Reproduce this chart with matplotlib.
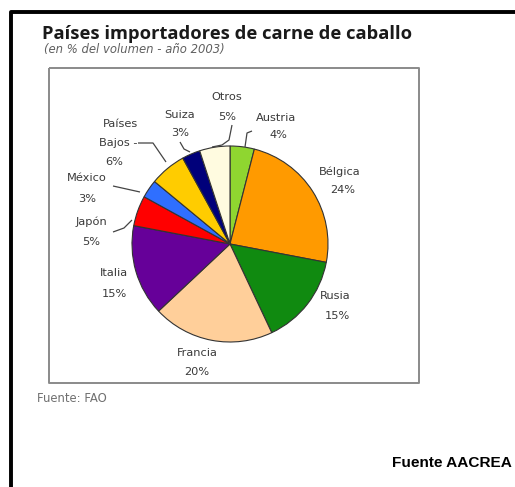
import matplotlib
matplotlib.use("Agg")
import matplotlib.pyplot as plt
import numpy as np

countries = ["Austria", "Bélgica", "Rusia", "Francia", "Italia", "Japón",
             "México", "Países Bajos", "Suiza", "Otros"]
shares = [4, 24, 15, 20, 15, 5, 3, 6, 3, 5]
colors = ["#8fd630", "#ff9a00", "#108a10", "#ffcf9a", "#660099", "#ff0000",
          "#2f6fff", "#ffcc00", "#00007a", "#fffbe0"]

W, H = 515, 487
CX, CY, R = 230, 244, 98

fig = plt.figure(figsize=(W / 100, H / 100), dpi=100)
fig.patch.set_facecolor("white")
ax = fig.add_axes([0, 0, 1, 1])

wedges, _ = ax.pie(shares, colors=colors, startangle=90, counterclock=False,
                   wedgeprops=dict(edgecolor="#333333", linewidth=0.8))
ax.set_xlim((0 - CX) / R, (W - CX) / R)
ax.set_ylim((CY - H) / R, (CY - 0) / R)
ax.set_aspect("auto")
ax.axis("off")


def P(px, py):
    return ((px - CX) / R, (CY - py) / R)


def path(points, color="#444444", lw=0.9):
    xs = [P(*p)[0] for p in points]
    ys = [P(*p)[1] for p in points]
    ax.plot(xs, ys, color=color, lw=lw, solid_capstyle="butt")


# black outer border
path([(10.5, H + 5), (10.5, 12), (W + 5, 12)], color="black", lw=2.8)

# inner gray box
path([(49, 68), (419, 68), (419, 383), (49, 383), (49, 68)], color="#8a8a8a", lw=1.4)

# labels
lab_color = "#3a3a3a"
fs = 8.2
label_pos = {
    "Austria": [("Austria", 276, 118), ("4%", 278, 135)],
    "Bélgica": [("Bélgica", 340, 172), ("24%", 343, 190)],
    "Rusia": [("Rusia", 335, 296), ("15%", 337, 316)],
    "Francia": [("Francia", 197, 353), ("20%", 197, 372)],
    "Italia": [("Italia", 114, 273), ("15%", 114, 294)],
    "Japón": [("Japón", 91, 222), ("5%", 91, 242)],
    "México": [("México", 87, 178), ("3%", 87, 199)],
    "Países Bajos": [("Países", 120, 124), ("Bajos -", 118, 143), ("6%", 114, 162)],
    "Suiza": [("Suiza", 180, 115), ("3%", 180, 133)],
    "Otros": [("Otros", 227, 97), ("5%", 227, 117)],
}
for c, s in zip(countries, shares):
    for txt, px, py in label_pos[c]:
        x, y = P(px, py)
        ax.text(x, y, txt, fontsize=fs, color=lab_color, ha="center", va="center",
                family="DejaVu Sans")

# leader lines
path([(245, 147), (247, 133), (252, 131)])
path([(232, 125), (229, 140), (222, 145), (212, 147)])
path([(180, 142), (184, 149), (190, 152)])
path([(138, 143), (153, 143), (166, 162)])
path([(113, 186), (140, 192)])
path([(113, 232), (124, 228), (132, 220)])

# titles
x, y = P(42, 34)
ax.text(x, y, "Países importadores de carne de caballo", fontsize=13.2,
        fontweight="bold", color="#1a1a1a", ha="left", va="center", family="Open Sans")
x, y = P(44, 50)
ax.text(x, y, "(en % del volumen - año 2003)", fontsize=8.4, style="italic",
        color="#606060", ha="left", va="center", family="DejaVu Sans")
x, y = P(37, 399)
ax.text(x, y, "Fuente: FAO", fontsize=8.4, color="#707070", ha="left", va="center",
        family="DejaVu Sans")
x, y = P(392, 463)
ax.text(x, y, "Fuente AACREA", fontsize=11.1, fontweight="bold", color="black",
        ha="left", va="center", family="Liberation Sans")

fig.savefig("out.png", dpi=100, facecolor="white")
